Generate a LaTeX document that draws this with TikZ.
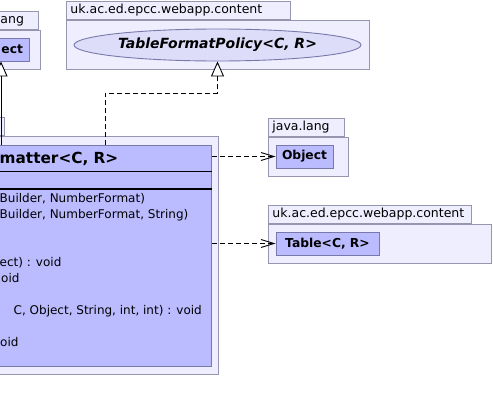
\documentclass[tikz,border=0pt]{standalone}
\usepackage{fontspec}
\setmainfont{DejaVu Sans}
\usepackage{tikz}
\newcommand{\tabheight}{18pt}
\newcommand{\clsheight}{23pt}
\definecolor{pkgFill}{RGB}{238,238,255}
\definecolor{pkgLine}{RGB}{150,150,175}
\definecolor{clsFill}{RGB}{187,187,255}
\definecolor{clsLine}{RGB}{120,120,170}
\definecolor{ifcFill}{RGB}{221,221,250}
\usetikzlibrary{arrows.meta,calc,positioning,shapes.geometric}
\tikzset{
  x=1pt, y=-1pt,
  font=\fontsize{12}{14}\selectfont,
  pkg/.style={draw=pkgLine,fill=pkgFill,shape=rectangle,anchor=north west,inner sep=0,line width=0.9pt},
  tab/.style={draw=pkgLine,fill=pkgFill,shape=rectangle,anchor=south west,minimum height=\tabheight,inner xsep=4pt,inner ysep=0,align=left,font=\fontsize{12.5}{14}\selectfont,text height=1.5ex,text depth=0.25ex,line width=0.9pt},
  cls/.style={draw=clsLine,fill=clsFill,shape=rectangle,minimum height=\clsheight,inner sep=0,font=\fontsize{12.3}{14}\selectfont\bfseries,line width=0.9pt},
  ifc/.style={draw=clsLine,fill=ifcFill,shape=ellipse,inner sep=0,font=\fontsize{14}{16}\selectfont\bfseries\itshape,line width=0.9pt},
  op/.style={anchor=base west,inner sep=0},
  dep/.style={draw,dash pattern=on 5pt off 3pt,-{Straight Barb[length=13pt,width=8pt]},line width=0.9pt},
  gen/.style={draw,-{Triangle[length=15pt,width=13pt,fill=white]},line width=0.9pt},
  real/.style={gen,dash pattern=on 5pt off 3pt},
}

\begin{document}
\begin{tikzpicture}
  \useasboundingbox (0,0) rectangle (493,412);
  % java.lang, cut off on the left
  \node (langpkg) [pkg,minimum width=44pt,minimum height=39pt] at (-4,30) {};
  \node (langtab) [tab,text width=34pt] at (langpkg.north west) {ang};
  \node (parent) [cls,minimum width=56pt,text width=44pt,align=right] at (1,49.5) {ect};
  % policy interface
  \node (polpkg) [pkg,minimum width=303pt,minimum height=49pt] at (66,20) {};
  \node (poltab) [tab,text width=216pt] at (polpkg.north west) {uk.ac.ed.epcc.webapp.content};
  \node (policy) [ifc,minimum width=287pt,minimum height=32pt] at (217.5,45) {TableFormatPolicy<C, R>};
  % formatter class
  \node (mainpkg) [pkg,minimum width=248pt,minimum height=238pt] at (-30,136) {};
  \node (maintab) [tab,minimum width=34pt] at (mainpkg.north west) {};
  \node (fmt) [cls,minimum width=411pt,minimum height=221pt,anchor=north west] at (-200,145) {};
  \draw [black,line width=1pt] ([yshift=-26pt]fmt.north west) -- ([yshift=-26pt]fmt.north east);
  \draw [black,line width=2pt] ([yshift=-44pt]fmt.north west) -- ([yshift=-44pt]fmt.north east);
  \node (fmtname) [op,font=\fontsize{15.3}{17}\selectfont\bfseries] at (-0.5,163) {matter<C, R>};
  \node (op1) [op] at (-0.5,202) {Builder, NumberFormat)};
  \node (op2) [op] at (-0.5,218) {Builder, NumberFormat, String)};
  \node (op3) [op] at (-0.5,266) {ect) : void};
  \node (op4) [op] at (1,282) {oid};
  \node (op5) [op] at (13.5,314) {C, Object, String, int, int) : void};
  \node (op6) [op] at (0,346) {oid};
  % java.lang.Object
  \node (objpkg) [pkg,minimum width=80pt,minimum height=39pt] at (268,137) {};
  \node (objtab) [tab,text width=68pt] at (objpkg.north west) {java.lang};
  \node (obj) [cls,minimum width=57pt] at (304.5,156.5) {Object};
  % Table
  \node (tblpkg) [pkg,minimum width=223pt,minimum height=39pt] at (268,224) {};
  \node (tbltab) [tab,text width=195pt] at (tblpkg.north west) {uk.ac.ed.epcc.webapp.content};
  \node (tbl) [cls,minimum width=103pt] at (327.5,243.5) {Table<C, R>};

  \path [gen] (parent.south |- fmt.north) -- (parent.south);
  \path [real] ([xshift=305pt]fmt.north west) -- ++(0,-52) -| (policy.south);
  \path [dep] (fmt.east |- obj.west) -- (obj.west);
  \path [dep] (fmt.east |- tbl.west) -- (tbl.west);
\end{tikzpicture}
\end{document}
